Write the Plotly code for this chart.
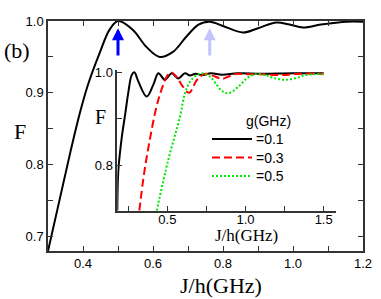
import plotly.graph_objects as go

# ---- main curve ----
main_J = [0.3, 0.365, 0.391, 0.414, 0.448, 0.476, 0.5, 0.542, 0.581, 0.619, 0.657,
          0.695, 0.73, 0.762, 0.80, 0.857, 0.9, 0.953, 0.99, 1.029, 1.08, 1.153, 1.2]
main_F = [0.68, 0.82, 0.872, 0.911, 0.956, 0.988, 1.0, 0.988, 0.964, 0.95, 0.957,
          0.978, 0.995, 0.999, 0.993, 0.984, 0.99, 0.998, 0.995, 0.991, 0.995, 0.999, 0.999]

# ---- inset curves ----
g_title = "g(GHz)"
g_labels = ["=0.1", "=0.3", "=0.5"]
inset_J_01 = [0.18, 0.187, 0.208, 0.23, 0.251, 0.272, 0.289, 0.315, 0.368, 0.41, 0.443,
              0.485, 0.528, 0.57, 0.613, 0.645, 0.68, 0.72, 0.78, 0.85, 0.95, 1.1, 1.3, 1.5]
inset_F_01 = [0.703, 0.791, 0.859, 0.909, 0.958, 0.994, 1.0, 0.98, 0.948, 0.973, 0.998,
              0.984, 0.998, 0.987, 0.998, 0.993, 0.997, 0.994, 0.998, 0.995, 0.998, 0.997, 0.998, 0.998]
inset_J_03 = [0.321, 0.35, 0.385, 0.43, 0.466, 0.5, 0.524, 0.56, 0.592, 0.639, 0.69, 0.741,
              0.79, 0.85, 0.9, 0.946, 1.0, 1.1, 1.22, 1.35, 1.5]
inset_F_03 = [0.703, 0.78, 0.85, 0.925, 0.966, 0.993, 1.0, 0.99, 0.973, 0.956, 0.984, 0.997,
              0.993, 0.986, 0.992, 0.997, 0.996, 0.996, 0.994, 0.997, 0.997]
inset_J_05 = [0.432, 0.506, 0.581, 0.613, 0.645, 0.688, 0.72, 0.773, 0.816, 0.85, 0.89,
              0.954, 1.008, 1.06, 1.125, 1.189, 1.253, 1.317, 1.38, 1.444, 1.5]
inset_F_05 = [0.703, 0.812, 0.905, 0.955, 0.98, 0.994, 0.998, 0.991, 0.973, 0.96, 0.955,
              0.969, 0.987, 0.996, 0.994, 0.987, 0.984, 0.987, 0.994, 0.996, 0.996]

main_xticks = [0.3, 0.4, 0.5, 0.6, 0.7, 0.8, 0.9, 1.0, 1.1, 1.2]
main_xlabels = ["", "0.4", "", "0.6", "", "0.8", "", "1.0", "", "1.2"]
main_yticks = [0.7, 0.75, 0.8, 0.85, 0.9, 0.95, 1.0]
main_ylabels = ["0.7", "", "0.8", "", "0.9", "", "1.0"]
inset_xticks = [0.25, 0.5, 0.75, 1.0, 1.25, 1.5]
inset_xlabels = ["", "0.5", "", "1.0", "", "1.5"]
inset_yticks = [0.8, 0.9, 1.0]
inset_ylabels = ["0.8", "", "1.0"]

arrow_J = [0.5, 0.762]
arrow_colors = ["#0000ff", "#c4c4ff"]

SANS = "Liberation Sans"
SERIF = "Liberation Serif"

W, H = 381, 299
L, R, T, B = 48, 18, 21, 48
PW, PH = W - L - R, H - T - B


def px(xp):
    return (xp - L) / PW


def py(yp):
    return (H - B - yp) / PH


fig = go.Figure()
fig.add_trace(go.Scatter(x=main_J, y=main_F, mode="lines", line=dict(color="black", width=2, shape="spline"),
                         showlegend=False, xaxis="x", yaxis="y"))

styles = [dict(color="black", width=2, dash="solid"),
          dict(color="#ff0000", width=2, dash="8px,4px"),
          dict(color="#00e600", width=2, dash="2px,2px")]
for lab, xs, ys, st in zip(g_labels, [inset_J_01, inset_J_03, inset_J_05],
                           [inset_F_01, inset_F_03, inset_F_05], styles):
    fig.add_trace(go.Scatter(x=xs, y=ys, mode="lines", name=lab, showlegend=False,
                             line=dict(shape="spline", **st), xaxis="x2", yaxis="y2"))

axis_common = dict(showline=True, linecolor="#333", linewidth=1.5, ticks="inside", ticklen=5,
                   tickcolor="#333", showgrid=False, zeroline=False, automargin=False,
                   tickfont=dict(family=SANS, size=13, color="black"))

fig.update_layout(
    template="none",
    width=W, height=H, margin=dict(l=L, r=R, t=T, b=B, autoexpand=False),
    plot_bgcolor="white", paper_bgcolor="white", showlegend=False,
    xaxis=dict(range=[0.3, 1.2], tickvals=main_xticks, ticktext=main_xlabels, mirror="ticks",
               domain=[0, 1], anchor="y", **axis_common),
    yaxis=dict(range=[0.68, 1.0], tickvals=main_yticks, ticktext=main_ylabels, mirror="ticks",
               domain=[0, 1], anchor="x", **axis_common),
    xaxis2=dict(range=[0.18, 1.577], tickvals=inset_xticks, ticktext=inset_xlabels,
                domain=[px(117.3), px(335.7)], anchor="y2", ticklabelstandoff=-4, **axis_common),
    yaxis2=dict(range=[0.703, 1.005], tickvals=inset_yticks, ticktext=inset_ylabels,
                domain=[py(210.7), py(70)], anchor="x2", **axis_common),
)


def note(text, x, y, size, family, xanchor="center"):
    fig.add_annotation(text=text, xref="paper", yref="paper", x=px(x), y=py(y),
                       xanchor=xanchor, yanchor="middle", showarrow=False,
                       font=dict(family=family, size=size, color="black"))


note("(b)", 17, 50, 22, SERIF)
note("F", 20, 131, 22, SERIF)
note("J/h(GHz)", 221, 285, 22, SERIF)
note("F", 100, 117, 20, SERIF)
note("J/h(GHz)", 246, 235, 17, SERIF)

# legend (title, key lines, labels)
note(g_title, 268, 121, 14, SANS)
for i, (lab, st) in enumerate(zip(g_labels, styles)):
    yk = 139 + i * 18.5
    fig.add_shape(type="line", xref="paper", yref="paper", x0=px(212), x1=px(252), y0=py(yk), y1=py(yk),
                  line=dict(color=st["color"], width=2, dash=st["dash"]))
    note(lab, 254, yk, 14, SANS, xanchor="left")

for j, c in zip(arrow_J, arrow_colors):
    fig.add_annotation(x=j, y=0.99, xref="x", yref="y", ax=j, ay=0.95, axref="x", ayref="y",
                       showarrow=True, arrowhead=2, arrowsize=0.8, arrowwidth=3, arrowcolor=c, text="")

fig.write_html("out.html", post_script="document.body.style.margin='0px';",
               config={"displayModeBar": False})
